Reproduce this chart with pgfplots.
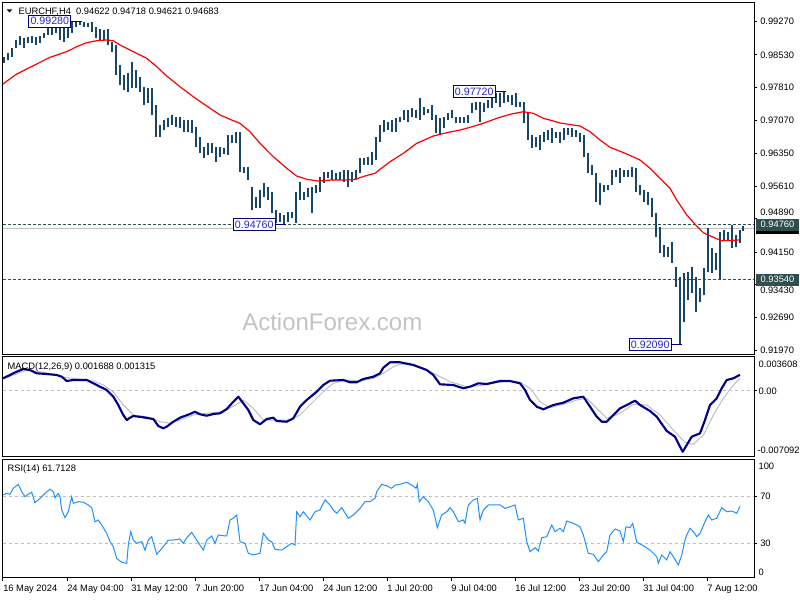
\documentclass[border=0pt]{standalone}
\usepackage{fontspec}
\setmainfont{Liberation Sans}
\usepackage{pgfplots}
\usepackage{pgfplotstable}
\pgfplotsset{compat=1.18}
\definecolor{barcol}{RGB}{25,70,100}
\definecolor{lvl}{RGB}{47,79,79}
\definecolor{bidgray}{RGB}{192,192,192}
\definecolor{macdblue}{RGB}{0,0,139}
\definecolor{siggray}{RGB}{190,190,190}
\definecolor{rsiblue}{RGB}{30,144,255}
\definecolor{calltext}{RGB}{40,40,200}
\definecolor{callborder}{RGB}{0,0,128}
\definecolor{wm}{RGB}{195,195,195}
\newcommand{\lab}{\fontsize{7}{8.4}\selectfont}
\newcommand{\calf}{\fontsize{8}{9.6}\selectfont}

\pgfplotstableread{
x lo hi
0.5 0.98351 0.98485
2.5 0.98418 0.98574
4.5 0.98485 0.98685
6.5 0.98685 0.98863
8.5 0.98752 0.98952
10.5 0.98685 0.98907
12.5 0.98796 0.98929
14.5 0.98796 0.98952
16.5 0.98752 0.98929
18.5 0.98796 0.98952
20.5 0.98907 0.99018
22.5 0.98974 0.99263
24.5 0.98974 0.99241
26.5 0.99018 0.99196
28.5 0.98863 0.99241
30.5 0.98818 0.99130
32.5 0.98907 0.99152
34.5 0.99018 0.99263
36.5 0.99152 0.99263
38.5 0.99196 0.99280
40.5 0.99152 0.99263
42.5 0.99152 0.99241
44.5 0.99041 0.99263
46.5 0.98907 0.99152
48.5 0.98863 0.99107
50.5 0.98863 0.99085
52.5 0.98752 0.99107
54.5 0.98596 0.98818
56.5 0.98085 0.98752
58.5 0.97863 0.98307
60.5 0.97751 0.98085
62.5 0.97707 0.98129
64.5 0.97796 0.98374
66.5 0.97796 0.98196
68.5 0.97707 0.98040
70.5 0.97418 0.97818
72.5 0.97462 0.97796
74.5 0.97196 0.97796
76.5 0.96706 0.97418
78.5 0.96706 0.96973
80.5 0.96862 0.97084
82.5 0.96929 0.97129
84.5 0.96973 0.97196
86.5 0.96929 0.97151
88.5 0.96906 0.97151
90.5 0.96818 0.97084
92.5 0.96818 0.97084
94.5 0.96795 0.97084
96.5 0.96484 0.96929
98.5 0.96351 0.96706
100.5 0.96240 0.96484
102.5 0.96306 0.96573
104.5 0.96351 0.96573
106.5 0.96151 0.96484
108.5 0.96262 0.96484
110.5 0.96329 0.96462
112.5 0.96306 0.96751
114.5 0.96573 0.96751
116.5 0.96573 0.96818
118.5 0.95928 0.96818
120.5 0.95906 0.96040
122.5 0.95751 0.96040
124.5 0.95084 0.95595
126.5 0.95128 0.95373
128.5 0.95128 0.95528
130.5 0.95373 0.95684
132.5 0.95306 0.95595
134.5 0.95017 0.95484
136.5 0.94795 0.95084
138.5 0.94817 0.95017
140.5 0.94760 0.94972
142.5 0.94817 0.95039
144.5 0.94906 0.95039
146.5 0.94795 0.95484
148.5 0.95306 0.95706
150.5 0.95306 0.95484
152.5 0.95373 0.95573
154.5 0.95017 0.95595
156.5 0.95462 0.95640
158.5 0.95484 0.95817
160.5 0.95684 0.95928
162.5 0.95795 0.95928
164.5 0.95751 0.95973
166.5 0.95751 0.95906
168.5 0.95751 0.95928
170.5 0.95706 0.95973
172.5 0.95595 0.95973
174.5 0.95706 0.95928
176.5 0.95751 0.95973
178.5 0.95906 0.96240
180.5 0.96084 0.96240
182.5 0.96084 0.96262
184.5 0.96084 0.96373
186.5 0.96195 0.96706
188.5 0.96595 0.96973
190.5 0.96818 0.97084
192.5 0.96862 0.97040
194.5 0.96818 0.97084
196.5 0.96818 0.97129
198.5 0.97040 0.97151
200.5 0.97084 0.97307
202.5 0.97040 0.97307
204.5 0.97151 0.97351
206.5 0.97129 0.97307
208.5 0.97084 0.97574
210.5 0.97196 0.97373
212.5 0.97240 0.97329
214.5 0.97084 0.97418
216.5 0.96795 0.97196
218.5 0.96751 0.97129
220.5 0.96906 0.97151
222.5 0.97084 0.97240
224.5 0.97129 0.97307
226.5 0.97018 0.97151
228.5 0.97018 0.97151
230.5 0.97018 0.97151
232.5 0.97018 0.97196
234.5 0.97240 0.97462
236.5 0.97307 0.97485
238.5 0.97040 0.97485
240.5 0.97262 0.97462
242.5 0.97351 0.97529
244.5 0.97351 0.97685
246.5 0.97462 0.97685
248.5 0.97373 0.97685
250.5 0.97462 0.97720
252.5 0.97485 0.97640
254.5 0.97418 0.97640
256.5 0.97373 0.97685
258.5 0.97373 0.97485
260.5 0.97018 0.97485
262.5 0.96640 0.97240
264.5 0.96462 0.96751
266.5 0.96484 0.96706
268.5 0.96417 0.96751
270.5 0.96595 0.96818
272.5 0.96640 0.96862
274.5 0.96573 0.96906
276.5 0.96684 0.96818
278.5 0.96573 0.96818
280.5 0.96640 0.96906
282.5 0.96751 0.96906
284.5 0.96706 0.96906
286.5 0.96706 0.96862
288.5 0.96595 0.96795
290.5 0.96262 0.96751
292.5 0.95906 0.96351
294.5 0.95862 0.96084
296.5 0.95262 0.95906
298.5 0.95195 0.95684
300.5 0.95484 0.95640
302.5 0.95528 0.95640
304.5 0.95640 0.95973
306.5 0.95817 0.95973
308.5 0.95684 0.96017
310.5 0.95817 0.95973
312.5 0.95817 0.95973
314.5 0.95817 0.96040
316.5 0.95484 0.96017
318.5 0.95417 0.95640
320.5 0.95262 0.95528
322.5 0.95195 0.95484
324.5 0.94928 0.95350
326.5 0.94484 0.95017
328.5 0.94128 0.94706
330.5 0.94039 0.94305
332.5 0.94039 0.94261
334.5 0.93905 0.94372
336.5 0.93372 0.93816
338.5 0.92090 0.93594
340.5 0.92594 0.93683
342.5 0.93083 0.93705
344.5 0.93239 0.93816
346.5 0.92816 0.93594
348.5 0.93039 0.93350
350.5 0.93194 0.93794
352.5 0.93705 0.94684
354.5 0.93683 0.94239
356.5 0.93750 0.94128
358.5 0.93540 0.94595
360.5 0.94417 0.94639
362.5 0.94417 0.94595
364.5 0.94239 0.94760
366.5 0.94261 0.94528
368.5 0.94350 0.94639
369.8 0.94621 0.94718
}\bars

\pgfplotstableread{
x y
0 0.97885
6.85 0.98107
15.15 0.98292
23.5 0.98478
31.85 0.98603
36.85 0.98714
41.85 0.98803
46.85 0.98847
51.85 0.98863
55.15 0.98847
58.5 0.98752
65.15 0.98603
71.85 0.98456
76.85 0.98269
81.85 0.98063
88.5 0.97825
95.15 0.97602
101.85 0.97396
108.5 0.97196
115.15 0.97069
118.5 0.97011
123.5 0.96824
128.5 0.96566
135.15 0.96269
141.85 0.96011
146.85 0.95839
151.85 0.95766
157.65 0.95728
164.35 0.95751
171 0.95751
176 0.95766
181 0.95840
186 0.95900
188.5 0.95988
193.5 0.96157
200.15 0.96344
206.85 0.96566
215.15 0.96729
221.85 0.96802
228.5 0.96862
233.5 0.96922
240.15 0.97011
246.85 0.97122
253.5 0.97211
260.15 0.97269
265.15 0.97233
270.15 0.97122
275.15 0.97062
278.5 0.97018
288.5 0.96951
293.5 0.96824
298.5 0.96640
303.5 0.96478
311.85 0.96329
318.5 0.96195
323.5 0.96011
328.5 0.95788
333.5 0.95566
336.85 0.95306
341.85 0.94973
346.85 0.94728
350.15 0.94579
355.15 0.94477
359.35 0.94401
368.5 0.94417
}\ma

\pgfplotstableread{
x y
0 0.001319
3.5 0.001673
6.85 0.002028
10.15 0.002318
13.5 0.002211
16.85 0.001856
21.85 0.001781
26.85 0.001673
29.35 0.001491
31.85 0.001028
35.15 0.001136
41.85 0.001136
45.15 0.000781
48.5 0.000416
51.85 0.000061
55.15 -0.000659
57.65 -0.001552
60.15 -0.002627
61.85 -0.003164
63.5 -0.002917
65.15 -0.002734
70.15 -0.002874
75.15 -0.003057
77.65 -0.003809
80.15 -0.004056
81.85 -0.003884
85.15 -0.003347
88.5 -0.002917
93.5 -0.002519
96 -0.002272
98.5 -0.002551
101.85 -0.002702
105.15 -0.002519
108.5 -0.002444
111.85 -0.001982
115.15 -0.001197
117.65 -0.000659
120.15 -0.001369
122.65 -0.002089
125.15 -0.003164
128.5 -0.003626
131.85 -0.003057
135.15 -0.002917
136.85 -0.003272
141.85 -0.003347
145.15 -0.002981
148.5 -0.001734
151.85 -0.001014
156.85 -0.000122
160.15 0.000598
163.5 0.001061
170.15 0.001136
173.5 0.000889
176.85 0.000889
180.15 0.001243
185.15 0.001491
188.5 0.001856
190.15 0.002458
193.5 0.003039
198.5 0.003039
205.15 0.002748
211.85 0.002211
215.15 0.001673
218.5 0.000674
225.15 0.000598
230.15 0.000244
233.5 0.000416
237.65 0.000781
241.85 0.000706
248.5 0.001028
253.5 0.001028
258.5 0.000781
261 0.000061
263.5 -0.001014
266.85 -0.001734
270.15 -0.002014
275.15 -0.001552
280.15 -0.001304
285.15 -0.000831
290.15 -0.000659
293.5 -0.001734
296.85 -0.002809
299.35 -0.003347
301.85 -0.003347
305.15 -0.002627
308.5 -0.001906
313.5 -0.001369
316 -0.001089
318.5 -0.001552
323.5 -0.002197
326.85 -0.002809
331.85 -0.004347
336 -0.004959
338.5 -0.006034
339.85 -0.006572
341.85 -0.005852
344.35 -0.004959
348.5 -0.004594
351 -0.003164
353.5 -0.001552
356.85 -0.000831
359.35 0.000244
361.85 0.001136
365.15 0.001319
368.5 0.001688
}\macd

\pgfplotstableread{
x y
0 0.001243
5.15 0.001673
11.85 0.002211
18.5 0.002028
25.15 0.001749
31.85 0.001383
38.5 0.001211
45.15 0.001028
50.15 0.000598
55.15 -0.000122
60.15 -0.001552
65.15 -0.002627
71.85 -0.002809
78.5 -0.003347
83.5 -0.003519
88.5 -0.003164
95.15 -0.002627
101.85 -0.002444
110.15 -0.002272
116.85 -0.001476
120.15 -0.001014
125.15 -0.001906
130.15 -0.003164
136.85 -0.003164
143.5 -0.003164
148.5 -0.002627
155.15 -0.001197
160.15 -0.000122
165.15 0.000781
171.85 0.001136
178.5 0.001028
185.15 0.001319
190.15 0.001856
195.15 0.002566
198.5 0.002824
203.5 0.002931
210.15 0.002394
216.85 0.001673
223.5 0.000953
231.85 0.000416
238.5 0.000523
245.15 0.000781
251.85 0.001028
258.5 0.000889
263.5 0.000244
268.5 -0.001197
273.5 -0.001842
280.15 -0.001476
286.85 -0.001014
291.85 -0.000831
296.85 -0.001906
301.85 -0.002981
308.5 -0.002444
315.15 -0.001476
321.85 -0.001552
328.5 -0.002627
335.15 -0.004239
341 -0.005561
345.15 -0.005776
350.15 -0.004777
355.15 -0.002627
360.15 -0.000831
365.15 0.000598
368.5 0.001315
}\sig

\pgfplotstableread{
x y
0 71.5
1.85 72.9
3.5 72.1
5.15 77.2
7.65 80.6
9.35 74.3
11 70.0
12.65 72.1
14.35 73.8
16 64.8
18.5 68.6
21 72.9
23.5 76.4
25.15 74.3
26 69.1
27.65 72.9
28.5 70.0
29.35 58.6
31 52.0
32.65 57.1
34.35 70.0
35.15 64.3
37.65 65.7
40.15 65.2
42.65 62.9
44.35 60.6
46 48.5
47.65 50.0
49.35 45.7
51.85 38.6
53.5 31.4
55.15 27.1
56.85 17.1
59.35 13.7
61.85 12.8
62.65 28.5
63.85 40.0
65.15 32.8
66.85 30.0
69.35 31.4
71 24.2
72.65 32.8
74.35 35.7
76.85 20.6
80.15 27.1
82.65 32.8
85.15 32.8
88.5 33.7
90.15 30.0
91.85 34.8
94.35 39.4
96.85 32.8
100.15 24.2
101.85 32.8
104.35 36.3
106 30.0
107.65 37.1
110.15 36.5
111.85 36.3
113.5 50.0
115.15 51.5
116.85 54.3
118.5 31.4
121 30.0
122.65 21.4
125.15 20.0
128.5 21.4
130.15 38.6
132.65 32.8
134.35 31.4
136 24.8
139.35 24.2
141.85 27.1
144.35 30.0
146 28.5
146.85 57.1
148.5 52.8
150.15 57.1
153.5 50.0
156 57.1
158.5 58.6
161 67.2
163.5 62.9
165.15 58.6
166.85 55.8
169.35 60.6
172.65 51.5
175.15 54.3
178.5 60.0
181 65.7
183.5 65.7
186 68.6
186.85 74.3
189.35 80.6
191.85 79.4
194.35 77.2
196 80.0
198.5 80.6
201.85 82.4
204.35 80.0
206.5 77.2
207.15 80.6
208.15 65.7
210.15 70.0
212.65 65.7
215.15 58.6
217.15 43.4
219.35 54.3
221.85 57.1
223.5 60.6
225.15 57.1
227.65 48.5
230.15 50.0
231 47.2
232.65 62.9
235.15 67.2
237.15 68.6
238.5 50.0
240.15 58.6
242.65 62.9
245.15 62.9
248.5 62.9
251 60.0
253.5 61.4
256 62.9
257.65 50.0
260.15 51.5
261.85 31.4
263.5 22.8
266 26.2
267.65 23.4
269.35 34.8
271.85 35.7
274.35 45.7
276 40.0
278.5 42.9
280.15 40.0
281.85 49.1
285.15 47.2
288.5 44.2
290.15 37.1
292.65 21.4
295.15 20.6
297.65 14.2
300.15 20.0
301.85 22.8
303.5 37.1
306 42.3
308.5 40.6
310.15 31.4
311.5 44.2
313.5 43.4
314.85 47.2
316.85 30.9
320.15 27.9
323.5 24.2
326.85 18.5
327.65 12.8
329.35 20.0
331.85 15.7
333.5 22.8
335.15 18.5
337.65 11.4
339.35 20.0
341 32.8
341.85 37.1
343.5 42.9
345.15 40.0
346.85 35.7
348.5 38.6
351 48.5
352.65 54.3
354.35 50.0
356.85 51.5
359.35 60.6
361.85 57.1
364.35 57.7
366.85 55.8
368.5 61.7
}\rsi

\begin{document}
\begin{tikzpicture}
\path[use as bounding box] (0,0) rectangle (600pt,-450pt);
\pgfplotsset{
  chartbase/.style={
    scale only axis, anchor=north west, clip=false,
    xmin=-0.15, xmax=375.5,
    scaled y ticks=false, scaled x ticks=false,
    axis line style={black, line width=0.75pt},
    tick style={black, line width=0.75pt},
    major tick length=2.25pt, tick align=outside,
    ytick pos=right, xtick pos=bottom,
    yticklabels={}, xticklabels={},
  }
}
% ---------- main price panel ----------
\begin{axis}[chartbase, at={(2.025pt,-2.025pt)}, width=563.5pt, height=263.475pt,
  ymin=0.91883, ymax=0.99692, xtick=\empty,
  ytick={0.91970,0.92690,0.93430,0.94150,0.94890,0.95610,0.96350,0.97070,0.97810,0.98530,0.99270}]
\addplot[bidgray, line width=0.75pt, forget plot] coordinates {(-0.15,0.94683) (375.5,0.94683)};
\addplot[lvl, line width=0.75pt, dash pattern=on 2.25pt off 1.5pt, forget plot] coordinates {(-0.15,0.94760) (375.5,0.94760)};
\addplot[lvl, line width=0.75pt, dash pattern=on 2.25pt off 1.5pt, forget plot] coordinates {(-0.15,0.93540) (375.5,0.93540)};
\addplot[draw=none, mark=none, forget plot,
  error bars/.cd, y dir=plus, y explicit, error mark=none,
  error bar style={draw=barcol, line width=1.5pt}]
  table[x=x, y=lo, y error plus expr=\thisrow{hi}-\thisrow{lo}] {\bars};
\addplot[red, line width=0.9pt, mark=none] table[x=x, y=y] {\ma};
% callouts
\draw[callborder, line width=0.75pt] (axis cs:34.15,0.99280) -- (axis cs:39.5,0.99280);
\node[draw=callborder, fill=white, text=calltext, font=\calf, inner sep=0pt, minimum width=31.5pt, minimum height=8.8pt, line width=0.75pt, anchor=east] at (axis cs:34.15,0.99280) {0.99280};
\draw[callborder, line width=0.75pt] (axis cs:136.35,0.94760) -- (axis cs:141.5,0.94760);
\node[draw=callborder, fill=white, text=calltext, font=\calf, inner sep=0pt, minimum width=31.5pt, minimum height=8.8pt, line width=0.75pt, anchor=east] at (axis cs:136.35,0.94760) {0.94760};
\draw[callborder, line width=0.75pt] (axis cs:246.35,0.97720) -- (axis cs:251.35,0.97720);
\node[draw=callborder, fill=white, text=calltext, font=\calf, inner sep=0pt, minimum width=31.5pt, minimum height=8.8pt, line width=0.75pt, anchor=east] at (axis cs:246.35,0.97720) {0.97720};
\draw[callborder, line width=0.75pt] (axis cs:334.35,0.92090) -- (axis cs:339.35,0.92090);
\node[draw=callborder, fill=white, text=calltext, font=\calf, inner sep=0pt, minimum width=31.5pt, minimum height=8.8pt, line width=0.75pt, anchor=east] at (axis cs:334.35,0.92090) {0.92090};
\end{axis}
% ---------- MACD panel ----------
\begin{axis}[chartbase, at={(2.025pt,-267.525pt)}, width=563.5pt, height=75pt,
  ymin=-0.007109, ymax=0.003641, xtick=\empty, ytick={0}]
\addplot[siggray, line width=0.75pt, dash pattern=on 2.25pt off 2.25pt, forget plot] coordinates {(-0.15,0) (375.5,0)};
\addplot[siggray, line width=0.75pt, mark=none] table[x=x, y=y] {\sig};
\addplot[macdblue, line width=1.6pt, mark=none, line join=round] table[x=x, y=y] {\macd};
\end{axis}
% ---------- RSI panel ----------
\begin{axis}[chartbase, at={(2.025pt,-344.475pt)}, width=563.5pt, height=88.8pt,
  ymin=0.47, ymax=102.1, xtick={0,32,...,352}, ytick={30,70}]
\addplot[siggray, line width=0.75pt, dash pattern=on 2.25pt off 2.25pt, forget plot] coordinates {(-0.15,70) (375.5,70)};
\addplot[siggray, line width=0.75pt, dash pattern=on 2.25pt off 2.25pt, forget plot] coordinates {(-0.15,30) (375.5,30)};
\addplot[rsiblue, line width=0.75pt, mark=none] table[x=x, y=y] {\rsi};
\end{axis}
% ---------- text (pixel coordinates) ----------
\begin{scope}[x=0.75pt, y=-0.75pt]
\fill (6.7,9.3) -- (12.3,9.3) -- (9.5,12.5) -- cycle;
\node[anchor=base west, inner sep=0pt, font=\lab] at (18.3,14) {EURCHF,H4\ \ 0.94622 0.94718 0.94621 0.94683};
\node[anchor=base west, inner sep=0pt, font=\lab] at (7.3,369) {MACD(12,26,9) 0.001688 0.001315};
\node[anchor=base west, inner sep=0pt, font=\lab] at (7.3,471.5) {RSI(14) 61.7128};
\node[anchor=base west, inner sep=0pt, text=wm, font=\fontsize{18}{20}\selectfont] at (242,330.7) {ActionForex.com};
% price scale
\foreach \yy/\tt in {21.68/0.99270, 54.97/0.98530, 87.36/0.97810, 120.65/0.97070, 153.04/0.96350, 186.33/0.95610, 212.6/0.94890, 252.0/0.94150, 290.3/0.93430, 317.68/0.92690, 350.07/0.91970}
  \node[anchor=west, inner sep=0pt, font=\lab] at (760,\yy) {\tt};
\fill[black] (755.5,222.0) rectangle (799,234.0);
\node[anchor=west, fill=lvl, text=white, inner sep=0pt, minimum width=32.6pt, minimum height=9pt, font=\lab] at (755.5,224.6) {0.94760};
\node[anchor=west, fill=lvl, text=white, inner sep=0pt, minimum width=32.6pt, minimum height=9pt, font=\lab] at (755.5,279.5) {0.93540};
% MACD scale
\node[anchor=west, inner sep=0pt, font=\lab] at (758.3,364.3) {0.003608};
\node[anchor=west, inner sep=0pt, font=\lab] at (758.3,391.7) {0.00};
\node[anchor=west, inner sep=0pt, font=\lab] at (757.3,450.7) {-0.007092};
% RSI scale
\node[anchor=west, inner sep=0pt, font=\lab] at (758.3,466.7) {100};
\node[anchor=west, inner sep=0pt, font=\lab] at (760,496.7) {70};
\node[anchor=west, inner sep=0pt, font=\lab] at (760,543.3) {30};
\node[anchor=west, inner sep=0pt, font=\lab] at (758.3,572.3) {0};
% time axis
\foreach \xx/\tt in {3/16 May 2024, 67/24 May 04:00, 131/31 May 12:00, 195/7 Jun 20:00, 259/17 Jun 04:00, 323/24 Jun 12:00, 387/1 Jul 20:00, 451/9 Jul 04:00, 515/16 Jul 12:00, 579/23 Jul 20:00, 643/31 Jul 04:00, 707/7 Aug 12:00}
  \node[anchor=base west, inner sep=0pt, font=\lab] at (\xx,591.5) {\tt};
\end{scope}
\end{tikzpicture}
\end{document}
